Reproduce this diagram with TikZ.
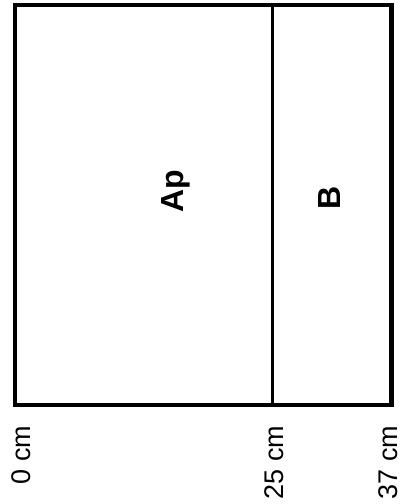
\documentclass[tikz,border=0pt]{standalone}
\usepackage{fontspec}
\setmainfont{Liberation Sans}
\begin{document}
\begin{tikzpicture}[x=1pt,y=-1pt,
  frame/.style={draw=black,line width=4.5pt},
  divider/.style={draw=black,line width=2.5pt},
  zonelabel/.style={font=\fontsize{32}{36}\selectfont\bfseries,rotate=90,inner sep=0pt},
  scalelabel/.style={font=\fontsize{27}{30}\selectfont,rotate=90,anchor=east,inner sep=0pt}]
\useasboundingbox (0,0) rectangle (402,504);
\coordinate (tl) at (15,5);
\coordinate (br) at (391.5,405);
\coordinate (dtop) at (272.7,5);
\coordinate (dbot) at (272.7,405);
\draw[frame] (tl) rectangle (br);
\draw[divider] (dtop) -- (dbot);
\node[zonelabel] (ap) at (176,191) {Ap};
\node[zonelabel] (b) at (329,198) {B};
\node[scalelabel] (l0) at (21,425.5) {0 cm};
\node[scalelabel] (l25) at (274,425.5) {25 cm};
\node[scalelabel] (l37) at (388,425.5) {37 cm};
\end{tikzpicture}
\end{document}
